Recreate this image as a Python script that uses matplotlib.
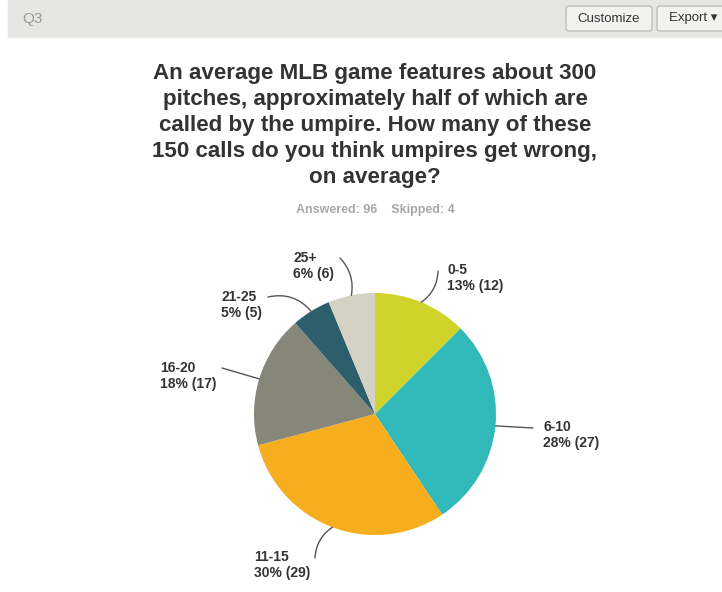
import matplotlib.pyplot as plt
import numpy as np
from matplotlib.patches import FancyBboxPatch, Rectangle

plt.rcParams['font.family'] = ['Liberation Sans', 'DejaVu Sans']

# データ
labels = ['0-5', '6-10', '11-15', '16-20', '21-25', '25+']
counts = [12, 27, 29, 17, 5, 6]
percents = ['13%', '28%', '30%', '18%', '5%', '6%']
colors = ['#d0d32a', '#31b9b9', '#f6ae1f', '#868778', '#2c5f6b', '#d4d2c5']
title = ('An average MLB game features about 300\npitches, approximately half of which are\n'
         'called by the umpire. How many of these\n150 calls do you think umpires get wrong,\non average?')
answered = 96
skipped = 4

W, H = 722, 592
fig = plt.figure(figsize=(W / 100, H / 100), dpi=100)
ax = fig.add_axes([0, 0, 1, 1])

def Y(y):
    # 上からのピクセル位置を下からに変換
    return H - y

# 上部のバー
ax.add_patch(Rectangle((8, Y(37)), W - 8, 37, color='#e6e6e4', zorder=0))
ax.text(22, Y(19), 'Q3', fontsize=11, color='#9a9a9a', va='center', ha='left')
ax.add_patch(FancyBboxPatch((566, Y(31)), 86, 25, boxstyle='round,pad=0,rounding_size=3',
                            facecolor='#f2f2f0', edgecolor='#bdbdbb', lw=1, zorder=1))
ax.text(609, Y(18.5), 'Customize', fontsize=9.5, color='#333333', va='center', ha='center', zorder=2)
ax.add_patch(FancyBboxPatch((657, Y(31)), 75, 25, boxstyle='round,pad=0,rounding_size=3',
                            facecolor='#f2f2f0', edgecolor='#bdbdbb', lw=1, zorder=1))
ax.text(669, Y(18.5), 'Export \u25be', fontsize=9.5, color='#333333', va='center', ha='left', zorder=2)

# タイトル
ax.text(375, Y(63), title, fontsize=16.1, fontweight='bold', color='#333333',
        ha='center', va='top', linespacing=1.31)
ax.text(375, Y(210), f'Answered: {answered}    Skipped: {skipped}', fontsize=9,
        fontweight='bold', color='#a8a8a8', ha='center', va='center')

# 円グラフ
cx, cy, r = 375, Y(414), 121
wedges, _ = ax.pie(counts, colors=colors, startangle=90, counterclock=False,
                   center=(cx, cy), radius=r, frame=True,
                   wedgeprops=dict(linewidth=0))
ax.set_xlim(0, W)
ax.set_ylim(0, H)
ax.set_aspect('equal')
ax.axis('off')

# ラベル位置（テキスト左上）と線の終点
text_pos = [(447, 263), (543, 420), (254, 550), (160, 361), (221, 290), (293, 251)]
line_end = [(438, 271), (533, 428), (315, 558), (222, 368), (268, 297), (340, 258)]
rads = [-0.25, 0.0, -0.25, 0.0, -0.3, -0.25]

for i, w in enumerate(wedges):
    ang = np.deg2rad((w.theta1 + w.theta2) / 2)
    px, py = cx + r * np.cos(ang), cy + r * np.sin(ang)
    ex, ey = line_end[i]
    ax.annotate('', xy=(px, py), xytext=(ex, Y(ey)),
                arrowprops=dict(arrowstyle='-', color='#555555', lw=1,
                                connectionstyle=f'arc3,rad={rads[i]}', shrinkA=0, shrinkB=0))
    tx, ty = text_pos[i]
    ax.text(tx, Y(ty), f'{labels[i]}\n{percents[i]} ({counts[i]})', fontsize=10,
            fontweight='bold', color='#333333', ha='left', va='top', linespacing=1.2)

fig.savefig('out.png', dpi=100)
